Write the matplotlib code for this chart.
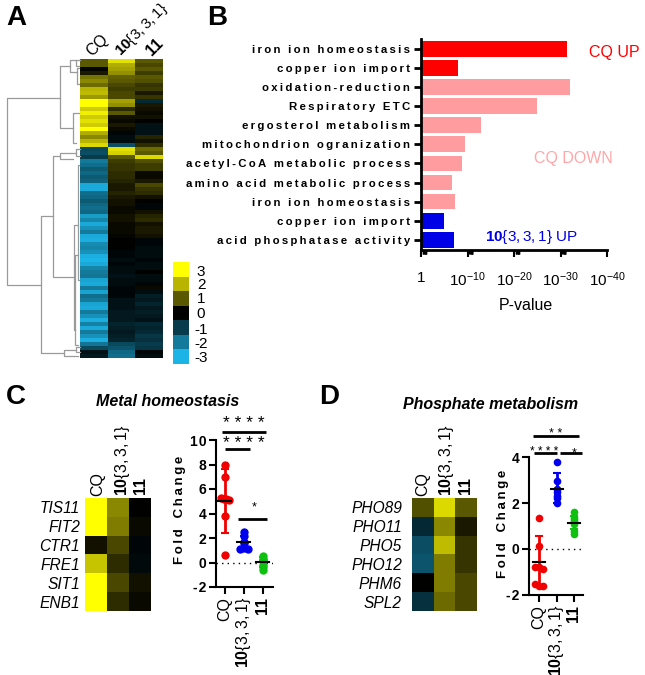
#!/usr/bin/env python3

import matplotlib
matplotlib.use("Agg")
import matplotlib.pyplot as plt
import numpy as np
from matplotlib.colors import LinearSegmentedColormap

plt.rcParams["font.family"] = ["Liberation Sans", "DejaVu Sans"]
plt.rcParams["mathtext.fontset"] = "custom"
plt.rcParams["mathtext.rm"] = "Liberation Sans"
plt.rcParams["mathtext.it"] = "Liberation Sans:italic"
plt.rcParams["mathtext.bf"] = "Liberation Sans:bold"
plt.rcParams["mathtext.default"] = "regular"

W, H = 645, 675

# panel A heatmap, top to bottom
a_cq = [1.0, 1.0, 0.05, 0.3, 1.3, 1.5, 1.2, 2.0, 2.1, 1.7, 3, 3, 2.3, 2.8, 2.3, 2.6, 2.3, 3, 1.9, 1.5,
        2.0, 2.5, -1.2, -1.3, -1.0, -2.0, -1.8, -1.5, -1.7, -1.5, -1.6, -2.8, -2.8, -1.8, -1.7, -1.5, -1.7, -1.8, -1.7, -2.6,
        -2.2, -2.8, -2.4, -2.0, -2.8, -2.9, -2.3, -2.2, -2.4, -2.9, -3, -2.8, -2.2, -2, -1.9, -2.7, -2.8, -2.0, -2.7, -1.8,
        -2.0, -2.7, -2.8, -2.0, -2.4, -2.9, -2.1, -2.8, -2.0, -2.4, -2.9, -1.9, -1.2, -0.3, -0.4]
a_10 = [2.6, 1.9, 1.8, 1.6, 1.1, 1.0, 0.8, 0.7, 0.8, 0.8, 1.8, 1.6, 0.5, 1.0, 0.2, 0.1, 0.3, 0.1, -0.1, -0.2,
        -0.2, -1.3, 2.6, 2.4, 1.0, 0.7, 0.6, 0.6, 0.5, 0.5, 0.4, 0.3, 0.3, 0.4, 0.3, 0.2, 0.2, 0.1, 0.1, 0.2,
        0.2, 0.1, 0.1, 0.1, 0.05, 0, 0, 0, -0.1, -0.1, -0.2, -0.1, -0.2, -0.2, -0.3, -0.2, -0.2, -0.1, -0.1, -0.1,
        -0.3, -0.3, -0.3, -0.4, -0.4, -0.4, -0.6, -0.5, -0.4, -0.5, -0.6, -1.2, -1.4, -1.7, -1.8]
a_11 = [1.0, 0.8, 1.0, 0.7, 1.0, 0.9, 0.6, 0.7, 0.3, 0.6, -0.7, 0.3, 0.2, 0.1, 0.2, 0, -0.3, -0.3, -0.3, 0.4,
        0.2, 0.5, 1.2, 1.0, 2.5, 0.9, 0.7, 0.7, 0.1, 0.1, 0.3, 0.8, 0.6, 0.5, 0.2, 0, -0.1, -0.1, 0.2, 0.4,
        0.5, 0.2, 0.3, 0.3, 0.2, -0.1, -0.1, -0.2, -0.2, -0.2, -0.1, -0.2, -0.2, 0, -0.2, -0.2, -0.1, 0.1, -0.2, -0.5,
        -0.4, -0.6, -0.4, -0.5, -0.4, -0.3, -0.7, -0.6, -0.7, -0.9, -0.8, -1.0, -0.9, -0.1, -0.2]

legend_levels = [3, 2, 1, 0, -1, -2, -3]
legend_labels = ["3", "2", "1", "0", "-1", "-2", "-3"]

# dendrogram brackets: x of the stem, y top, y bottom, x reached by top arm, x reached by bottom arm
dendro = [
    (7, 98, 285, 60, 41), (60, 66, 128, 70, 73), (70, 60, 72, 76, 77), (73, 113, 143, 79, 76),
    (76, 60, 66, 80, 79), (77, 68, 84, 79, 79), (41, 216, 353, 53, 64), (53, 156, 277, 60, 74),
    (60, 153, 159, 76, 73), (76, 149, 156, 80, 80), (74, 225, 330, 78, 75), (78, 165, 280, 79, 79),
    (75, 255, 345, 78, 78), (64, 350, 356, 76, 78), (76, 347, 352, 80, 80),
]

# panel B
terms = ["iron ion homeostasis", "copper ion import", "oxidation-reduction", "Respiratory ETC",
         "ergosterol metabolism", "mitochondrion ogranization", "acetyl-CoA metabolic process",
         "amino acid metabolic process", "iron ion homeostasis", "copper ion import",
         "acid phosphatase activity"]
neg_log_p = [31.3, 7.9, 32.1, 25.0, 12.9, 9.4, 8.9, 6.6, 7.3, 5.0, 7.2]
term_groups = ["up", "up", "down", "down", "down", "down", "down", "down", "down", "hit", "hit"]
decades = [0, 10, 20, 30, 40]
decade_labels = ["1", "$10^{-10}$", "$10^{-20}$", "$10^{-30}$", "$10^{-40}$"]

# panel C
c_genes = ["TIS11", "FIT2", "CTR1", "FRE1", "SIT1", "ENB1"]
c_cq = [3, 3, 0.2, 2.2, 3, 3]
c_10 = [1.5, 1.4, 0.8, 0.5, 0.8, 0.5]
c_11 = [0, 0.1, -0.1, -0.15, 0.2, 0.1]
c_fold_cq = [8, 7, 5.3, 5.2, 5.2, 5.1, 3.8, 0.6]
c_fold_10 = [2.5, 2.2, 1.7, 1.6, 1.2, 1.1, 1.1]
c_fold_11 = [0.5, 0.3, 0.2, 0.1, -0.2, -0.4, -0.6]
c_mean = [5.0, 1.7, 0.05]
c_low = [2.4, 1.2, -0.4]
c_high = [7.6, 2.2, 0.45]

# panel D
d_genes = ["PHO89", "PHO11", "PHO5", "PHO12", "PHM6", "SPL2"]
d_cq = [0.9, -0.7, -1.3, -1.4, 0, -0.8]
d_10 = [2.5, 1.5, 2.1, 1.4, 1.4, 1.2]
d_11 = [1, 0.3, 0.6, 0.6, 0.8, 0.8]
d_fold_cq = [1.33, 0.12, -0.8, -0.8, -0.85, -1.5, -1.6, -1.6]
d_fold_10 = [3.8, 2.95, 2.6, 2.5, 2.3, 2.2, 2.0]
d_fold_11 = [1.6, 1.4, 1.3, 1.2, 1.1, 0.8, 0.65]
d_mean = [-0.55, 2.63, 1.15]
d_low = [-1.6, 2.0, 0.85]
d_high = [0.55, 3.3, 1.45]

LABEL_10 = r"$\mathbf{10}$" + "{" + r"$\mathit{3,3,1}$" + "}"
LABEL_11 = r"$\mathbf{11}$"

cmap = LinearSegmentedColormap.from_list(
    "cq", ["#1CB4E6", "#147A9C", "#083C4C", "#000000", "#5A5800", "#B8B400", "#FFFF00"])

fig = plt.figure(figsize=(W / 100, H / 100), dpi=100, facecolor="white")


def px_axes(x0, y0, x1, y1, **kwargs):
    return fig.add_axes([x0 / W, 1 - y1 / H, (x1 - x0) / W, (y1 - y0) / H], **kwargs)


def spaced(s, gap="\u2009"):
    # bold labels in the figure are letter-spaced
    return gap.join(s)


def heat(x0, y0, x1, y1, columns, **kwargs):
    ax = px_axes(x0, y0, x1, y1)
    ax.imshow(np.array(columns).T, cmap=cmap, vmin=-3, vmax=3, aspect="auto", **kwargs)
    ax.axis("off")
    return ax


def swarm(values, width=0.22, near=0.035):
    # side by side offsets for points of nearly equal value
    values = np.array(values, dtype=float)
    span = values.max() - values.min()
    offsets = np.zeros(len(values))
    used = np.zeros(len(values), dtype=bool)
    for i in range(len(values)):
        if used[i]:
            continue
        group = np.where(np.abs(values - values[i]) < near * span + 0.02)[0]
        group = group[~used[group]]
        used[group] = True
        if len(group) > 1:
            offsets[group] = np.linspace(-width, width, len(group))
    return offsets


def scatter_panel(box, ylim, yticks, fold, mean, low, high, xpad, ms):
    ax = px_axes(*box)
    colors = ["#F00000", "#0000EE", "#10C010"]
    ax.axhline(0, color="black", lw=1, ls=(0, (1, 3)), zorder=1)
    for i, vals in enumerate(fold):
        ax.plot(i + swarm(vals), vals, "o", color=colors[i], ms=ms, mec="none", zorder=3, clip_on=False)
        ax.errorbar(i, mean[i], yerr=[[mean[i] - low[i]], [high[i] - mean[i]]], color=colors[i],
                    lw=2, capsize=3, capthick=1.5, zorder=2)
        ax.plot([i - 0.34, i + 0.34], [mean[i], mean[i]], color="black", lw=1.5, zorder=4)
    ax.set_xlim(*xpad)
    ax.set_ylim(*ylim)
    ax.set_yticks(yticks)
    ax.set_yticklabels([spaced(str(t), "\u200a") for t in yticks], fontweight="bold", fontsize=10)
    ax.set_xticks([0, 1, 2])
    ax.set_xticklabels(["CQ", LABEL_10, LABEL_11], rotation=90, fontsize=11.5)
    ax.tick_params(width=1.5, length=5, pad=2)
    ax.patch.set_alpha(0)
    for side in ["top", "right"]:
        ax.spines[side].set_visible(False)
    for side in ["left", "bottom"]:
        ax.spines[side].set_linewidth(1.5)
    return ax


def sig(ax, x0, x1, y, lw=2):
    ax.plot([x0, x1], [y, y], color="black", lw=lw, clip_on=False, solid_capstyle="butt", zorder=5)


# panel A
heat(80, 59, 163, 358, [a_cq, a_10, a_11])
leg = px_axes(173, 262, 189, 364)
leg.imshow(np.array(legend_levels)[:, None], cmap=cmap, vmin=-3, vmax=3, aspect="auto")
leg.axis("off")

# panel B
ax_b = px_axes(421, 39, 607, 250)
group_colors = {"up": "#FF0000", "down": "#FF9C9F", "hit": "#0000E6"}
ypos = np.arange(len(terms))
ax_b.barh(ypos, neg_log_p, height=0.83, color=[group_colors[g] for g in term_groups])
ax_b.set_xlim(0, 40)
ax_b.set_ylim(len(terms) - 0.46, -0.53)
ax_b.set_yticks(ypos)
ax_b.set_yticklabels([spaced(t) for t in terms], fontweight="bold", fontsize=8.2)
ax_b.set_xticks(decades)
ax_b.set_xticklabels(decade_labels, fontsize=11)
minor = [d + np.log10(k) * 10 / 9 for d in decades[:-1] for k in range(2, 10)]
ax_b.set_xticks(minor, minor=True)
ax_b.tick_params(axis="x", which="major", width=1.5, length=5, pad=10)
ax_b.tick_params(axis="x", which="minor", width=1, length=3)
ax_b.tick_params(axis="y", width=2, length=5, pad=3)
for side in ["top", "right"]:
    ax_b.spines[side].set_visible(False)
for side in ["left", "bottom"]:
    ax_b.spines[side].set_linewidth(2)

# panel C
heat(85, 498, 151, 611, [c_cq, c_10, c_11])
ax_c = scatter_panel((216, 440, 273, 587), (-2, 10), [-2, 0, 2, 4, 6, 8, 10],
                     [c_fold_cq, c_fold_10, c_fold_11], c_mean, c_low, c_high, (-0.47, 2.53), 6)
sig(ax_c, -0.16, 2.16, 10.65)
sig(ax_c, 0, 1.32, 9.27)
sig(ax_c, 0.68, 2.2, 3.55)

# panel D
heat(412, 498, 477, 611, [d_cq, d_10, d_11])
ax_d = scatter_panel((529, 457, 583, 595), (-2, 4), [-2, 0, 2, 4],
                     [d_fold_cq, d_fold_10, d_fold_11], d_mean, d_low, d_high, (-0.57, 2.5), 5.5)
sig(ax_d, -0.34, 2.29, 4.91)
sig(ax_d, -0.29, 1.03, 4.17)
sig(ax_d, 1.2, 2.46, 4.17)

# free text and dendrogram, in picture pixels
ov = px_axes(0, 0, W, H, zorder=10)
ov.set_xlim(0, W)
ov.set_ylim(H, 0)
ov.axis("off")
ov.patch.set_alpha(0)

for xs, yt, yb, xt, xb in dendro:
    ov.plot([xt, xs, xs, xb], [yt, yt, yb, yb], color="#9A9A9A", lw=0.9)

for letter, x, y in [("A", 16, 18), ("B", 217, 18), ("C", 16, 397), ("D", 329, 397)]:
    ov.text(x, y, letter, fontsize=20, fontweight="bold", ha="center", va="center")

ov.text(97, 45, "CQ", rotation=45, fontsize=11.5, ha="center", va="center")
ov.text(142, 30, LABEL_10, rotation=45, fontsize=11, ha="center", va="center")
ov.text(155, 47, LABEL_11, rotation=45, fontsize=11.5, ha="center", va="center")

for label, y in zip(legend_labels, [272, 285, 299, 314, 330, 344, 358]):
    ov.text(201, y, label, fontsize=11, ha="center", va="center")

ov.text(526, 305, "P-value", fontsize=11.5, ha="center", va="center")
ov.text(614, 53, "CQ UP", fontsize=11.5, color="#FF0000", ha="center", va="center")
ov.text(573, 158, "CQ DOWN", fontsize=11.5, color="#FFA6A8", ha="center", va="center")
ov.text(531, 237, r"$\mathbf{10}$" + "{" + r"$\mathit{3,3,1}$" + "} UP", fontsize=11, color="#0000E6",
        ha="center", va="center")

ov.text(168, 402, "Metal homeostasis", fontsize=11.5, fontweight="bold", style="italic", ha="center", va="center")
ov.text(491, 404, "Phosphate metabolism", fontsize=11.5, fontweight="bold", style="italic", ha="center", va="center")

for genes, right in [(c_genes, 80), (d_genes, 402)]:
    for gene, y in zip(genes, [507, 526, 545, 564, 583, 602]):
        ov.text(right, y, gene, fontsize=11.2, style="italic", ha="right", va="center_baseline")

for xs in [(98, 122, 141), (423, 447, 466)]:
    for x, label in zip(xs, ["CQ", LABEL_10, LABEL_11]):
        ov.text(x, 496, label, rotation=90, fontsize=11.5, ha="center", va="bottom")

for x, y in [(180, 510), (503, 524)]:
    ov.text(x, y, spaced("Fold") + "   " + spaced("Change"), rotation=90, fontsize=9.5, fontweight="bold",
            ha="center", va="center")

for x, y, stars, size in [(244, 423, "* * * *", 12.5), (244, 443, "* * * *", 12.5), (254, 507, "*", 9),
                          (556, 434, "* *", 9), (544, 452, "* * * *", 8.5), (574, 453, "*", 9)]:
    ov.text(x, y, stars, fontsize=size, ha="center", va="center")

fig.savefig("out.png", dpi=100)
